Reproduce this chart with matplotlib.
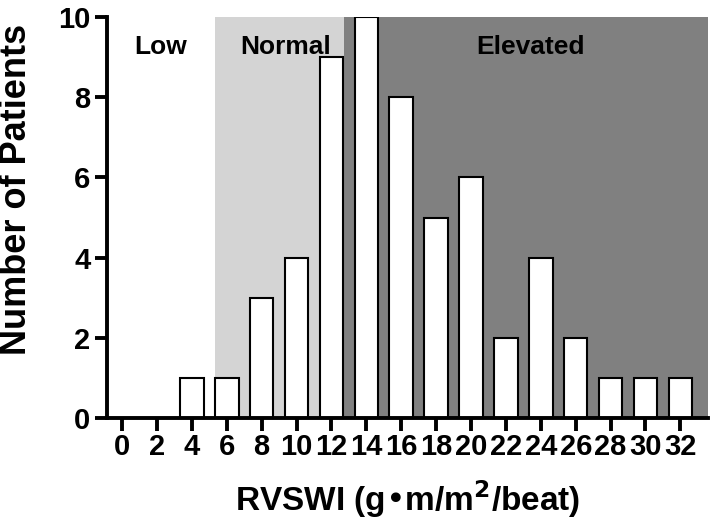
import matplotlib
matplotlib.use("Agg")
import matplotlib.pyplot as plt

rvswi = [0, 2, 4, 6, 8, 10, 12, 14, 16, 18, 20, 22, 24, 26, 28, 30, 32]
pacientes = [0, 0, 1, 1, 3, 4, 9, 10, 8, 5, 6, 2, 4, 2, 1, 1, 1]
rangos = ["Low", "Normal", "Elevated"]
limites = [(-0.86, 5.33), (5.33, 12.73), (12.73, 33.6)]
colores = ["white", "#d4d4d4", "#808080"]

plt.rcParams["font.family"] = ["Liberation Sans", "DejaVu Sans"]
plt.rcParams["font.weight"] = "bold"

fig = plt.figure(figsize=(7.14, 5.28), dpi=100)
ax = fig.add_axes([0.15, 0.208, 0.842, 0.76])

# Zonas sombreadas
for (a, b), c in zip(limites, colores):
    ax.axvspan(a, b, color=c, lw=0, zorder=0)

ax.bar(rvswi, pacientes, width=1.35, color="white", edgecolor="black", linewidth=1.5, zorder=2)

# Etiquetas de cada zona
posiciones = [2.2, 9.4, 23.4]
for txt, xp in zip(rangos, posiciones):
    ax.text(xp, 9.25, txt, ha="center", va="center", fontsize=19, fontweight="bold", zorder=3)

ax.set_xlim(-0.86, 33.6)
ax.set_ylim(0, 10)
ax.set_xticks(rvswi)
ax.set_xticklabels([str(v) for v in rvswi])
ax.set_yticks([0, 2, 4, 6, 8, 10])

for s in ["top", "right"]:
    ax.spines[s].set_visible(False)
ax.spines["left"].set_linewidth(2.8)
ax.spines["bottom"].set_linewidth(2.8)
ax.tick_params(axis="both", width=2.8, length=9, labelsize=21)
ax.tick_params(axis="x", pad=2)
ax.tick_params(axis="y", pad=3)

ax.set_xlabel("RVSWI (g\u2022m/m$^{\\mathbf{2}}$/beat)", fontsize=24, fontweight="bold", labelpad=12)
ax.set_ylabel("Number of Patients", fontsize=26, fontweight="bold")
ax.yaxis.set_label_coords(-0.122, 0.57)

fig.savefig("out.png", dpi=100)
